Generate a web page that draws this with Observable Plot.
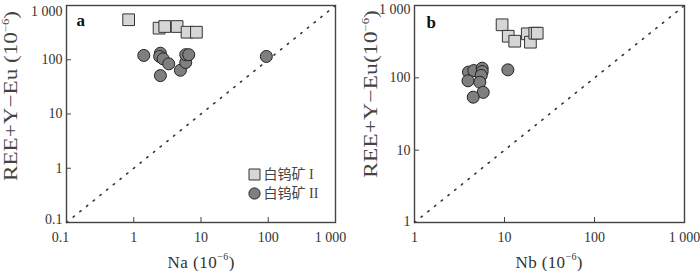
<!DOCTYPE html>
<html><head><meta charset="utf-8">
<script src="https://cdn.jsdelivr.net/npm/d3@7"></script>
<script src="https://cdn.jsdelivr.net/npm/@observablehq/plot@0.6"></script>
<style>
body{margin:0;background:#fff;}
#wrap{position:relative;width:700px;height:271px;overflow:hidden;}
#wrap svg{position:absolute;top:0;}
</style></head><body><div id="wrap"></div>
<script>
// Panel a: Na vs REE+Y-Eu
const naI = [0.84, 2.38, 2.89, 4.41, 6.2, 8.55];
const reeNaI = [546, 382, 410, 410, 322, 322];
const naII = [1.41, 2.49, 2.43, 2.73, 3.31, 2.49, 4.94, 5.93, 5.93, 6.57, 93.7];
const reeNaII = [120, 132, 115, 104, 84, 51, 64, 89, 124, 124, 115];
// Panel b: Nb vs REE+Y-Eu
const nbI = [9.4, 11.0, 13.0, 17.9, 19.4, 21.7, 23.1];
const reeNbI = [541, 376, 321, 406, 311, 414, 414];
const nbII = [3.98, 4.56, 5.65, 5.65, 5.51, 3.93, 5.32, 5.80, 4.49, 10.9];
const reeNbII = [120, 126, 136, 122, 108, 91, 87, 63, 54, 129];
// axes
const ticksA = [0.1, 1, 10, 100, 1000];
const ticksB = [1, 10, 100, 1000];
const seriesNames = ["白钨矿 I", "白钨矿 II"];
const panelLetters = ["a", "b"];
const xNames = ["Na", "Nb"];
const yName = "REE+Y\u2212Eu";

const serif = "'Liberation Serif', 'Times New Roman', serif";
const fmt = d => d === 1000 ? "1 000" : String(d);

function panel(o) {
  const ptsI = o.xI.map((x, i) => ({x, y: o.yI[i]}));
  const ptsII = o.xII.map((x, i) => ({x, y: o.yII[i]}));
  const t = o.ticks;
  const dom = [t[0], t[t.length - 1]];
  const mid = t.slice(1, -1);
  const lab = {tickSize: 0, fontSize: 14, label: null, tickFormat: fmt};
  const marks = [
    Plot.line(dom, {x: d => d, y: d => d, stroke: "#333", strokeWidth: 1.6, strokeDasharray: "1.4,7.2"}),
    // inward tick marks
    Plot.axisX({ticks: t, tickFormat: () => "", tickSize: -5, label: null, stroke: "#444"}),
    Plot.axisY({ticks: t, tickFormat: () => "", tickSize: -5, label: null, stroke: "#444"}),
    // tick labels
    Plot.axisX({...lab, ticks: mid, tickPadding: 10}),
    Plot.axisX({...lab, ticks: [t[0]], tickPadding: 10, dx: o.xFirstDx}),
    Plot.axisX({...lab, ticks: [t[t.length - 1]], tickPadding: 10, dx: o.xLastDx}),
    Plot.axisY({...lab, ticks: mid, tickPadding: 4}),
    Plot.axisY({...lab, ticks: [t[0]], tickPadding: 4, dy: o.yFirstDy}),
    Plot.axisY({...lab, ticks: [t[t.length - 1]], tickPadding: 4, dy: o.yLastDy}),
    Plot.dot(ptsII, {x: "x", y: "y", r: 6, fill: "#7f7f7f", stroke: "#222", strokeWidth: 1}),
    Plot.dot(ptsI, {x: "x", y: "y", symbol: "square", r: 6.6, fill: "#d6d6d6", stroke: "#333", strokeWidth: 1}),
    Plot.frame({stroke: "#444", strokeWidth: 1.4}),
    Plot.text([o.letter], {text: d => d, frameAnchor: "top-left", dx: o.letterDx, dy: o.letterDy, fontSize: 17, fontWeight: "bold", fill: "#111"})
  ];
  if (o.legend) {
    const lf = "'Liberation Serif', 'Noto Sans CJK SC', serif";
    marks.push(
      Plot.dot([seriesNames[0]], {frameAnchor: "bottom-right", dx: -81, dy: -48, symbol: "square", r: 6.2, fill: "#d6d6d6", stroke: "#333", strokeWidth: 1}),
      Plot.dot([seriesNames[1]], {frameAnchor: "bottom-right", dx: -81, dy: -29, r: 5.6, fill: "#7f7f7f", stroke: "#222", strokeWidth: 1}),
      Plot.text([seriesNames[0]], {text: d => d, frameAnchor: "bottom-right", dx: -72, dy: -48, textAnchor: "start", lineAnchor: "middle", fontSize: 14, fill: "#444", fontFamily: lf}),
      Plot.text([seriesNames[1]], {text: d => d, frameAnchor: "bottom-right", dx: -72, dy: -29, textAnchor: "start", lineAnchor: "middle", fontSize: 14, fill: "#444", fontFamily: lf})
    );
  }
  const svg = Plot.plot({
    width: 350, height: 271,
    marginLeft: o.ml, marginRight: o.mr, marginTop: 5, marginBottom: 49,
    style: {fontFamily: serif, fontSize: "14px", color: "#333", background: "transparent"},
    x: {type: "log", domain: dom},
    y: {type: "log", domain: dom},
    marks
  });
  svg.style.left = o.left + "px";
  const s = d3.select(svg);
  // x label
  const xt = s.append("text").attr("x", o.xLabelX).attr("y", 268).attr("text-anchor", "middle")
    .attr("font-family", serif).attr("font-size", 17).attr("fill", "#333")
    .attr("textLength", 67).attr("lengthAdjust", "spacing");
  xt.append("tspan").text(o.xName + " (10");
  xt.append("tspan").attr("font-size", 10).attr("dy", -8).text("\u2212" + "6");
  xt.append("tspan").attr("dy", 8).text(")");
  // y label
  const yt = s.append("text").attr("transform", `translate(${o.yLabelX},${o.yLabelY}) rotate(-90)`)
    .attr("text-anchor", "middle").attr("font-family", serif).attr("font-size", 18.5).attr("fill", "#444")
    .attr("textLength", o.yLabelLen).attr("lengthAdjust", "spacingAndGlyphs");
  yt.append("tspan").text(yName + o.ySep + "(10");
  yt.append("tspan").attr("font-size", 10).attr("dy", -8).text("\u2212" + "6");
  yt.append("tspan").attr("dy", 8).text(")");
  document.getElementById("wrap").appendChild(svg);
}

panel({xI: naI, yI: reeNaI, xII: naII, yII: reeNaII, ticks: ticksA, letter: panelLetters[0], xName: xNames[0],
  left: 0, ml: 66, mr: 15, letterDx: 10, letterDy: 8, legend: true,
  xFirstDx: -6, xLastDx: -5, yFirstDy: -3, yLastDy: 6,
  xLabelX: 201, yLabelX: 17, yLabelY: 96, yLabelLen: 170, ySep: " "});
panel({xI: nbI, yI: reeNbI, xII: nbII, yII: reeNbII, ticks: ticksB, letter: panelLetters[1], xName: xNames[1],
  left: 350, ml: 64, mr: 16, letterDx: 12, letterDy: 10, legend: false,
  xFirstDx: 0, xLastDx: 0, yFirstDy: -1, yLastDy: 4,
  xLabelX: 199, yLabelX: 27, yLabelY: 94, yLabelLen: 168, ySep: ""});
</script></body></html>
